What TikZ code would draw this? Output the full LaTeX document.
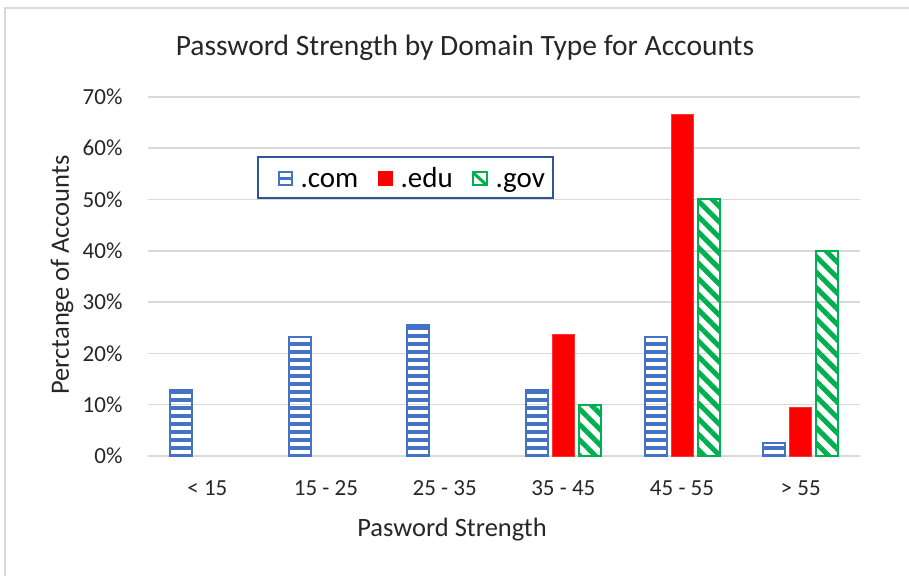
\documentclass[tikz,border=0pt]{standalone}
\usepackage{fontspec}
\setmainfont{Carlito}
\usetikzlibrary{patterns.meta}
\definecolor{comblue}{HTML}{4472C4}
\definecolor{govgreen}{HTML}{00B050}
\definecolor{gridgray}{HTML}{D9D9D9}
\definecolor{legendblue}{HTML}{2F5597}
\def\catw{118.67}
\def\barw{22}
\tikzset{
    gridline/.style = {draw=gridgray, line width=1.5pt},
    combar/.style = {draw=comblue, line width=2pt, pattern={Lines[angle=0, distance=8pt, line width=4.2pt]}, pattern color=comblue},
    edubar/.style = {draw=red!80, line width=1pt, fill=red},
    govbar/.style = {draw=govgreen, line width=2pt, pattern={Lines[angle=-45, distance=11pt, line width=5pt]}, pattern color=govgreen},
    ticklabel/.style = {font=\fontsize{23}{26}\selectfont, text=black!85},
    axistitle/.style = {font=\fontsize{26.5}{30}\selectfont, text=black!85}
}

\begin{document}
\begin{tikzpicture}[x=1pt, y=1pt]
        \useasboundingbox (0,0) rectangle (909,576);

        % outer chart border
        \draw[gridgray, line width=1.2pt] (5,0) -- (5,568) -- (909,568);

        % title
        \node[font=\fontsize{29.5}{33}\selectfont, text=black!85] (title) at (465,528) {Password Strength by Domain Type for Accounts};

        % plot area, y in percent
        \begin{scope}[shift={(148,120)}, y=5.13pt]
            % grid and tick labels
            \foreach \p in {0,10,...,70} {
                \draw[gridline] (0,\p) -- (712,\p);
                \node[ticklabel, anchor=east] (tick\p) at (-22,\p) {\p\%};
            }

            % category labels
            \foreach \lab [count=\i from 0] in {< 15, 15 - 25, 25 - 35, 35 - 45, 45 - 55, > 55}
                \node[ticklabel] (cat\i) at ({\catw/2+\i*\catw},-6.3) {\lab};

            % .com bars
            \foreach \val [count=\i from 0] in {12.8,23.1,25.6,12.8,23.1,2.6}
                \draw[combar] ({\catw/2+\i*\catw-26.5-\barw/2},0) rectangle ++(\barw,\val);

            % .edu bars
            \foreach \val [count=\i from 3] in {23.7,66.6,9.5}
                \draw[edubar] ({\catw/2+\i*\catw-\barw/2},0) rectangle ++(\barw,\val);

            % .gov bars
            \foreach \val [count=\i from 3] in {10,50,40}
                \draw[govbar] ({\catw/2+\i*\catw+26.5-\barw/2},0) rectangle ++(\barw,\val);
        \end{scope}

        % axis titles
        \node[axistitle] (xtitle) at (452,46) {Pasword Strength};
        \node[axistitle, rotate=90] (ytitle) at (62,301) {Perctange of Accounts};

        % legend
        \draw[legendblue, line width=1.5pt, fill=white] (258,378) rectangle (553,419);
        \draw[comblue, line width=2pt] (278.5,391) rectangle (291.5,404);
        \draw[comblue, line width=2.5pt] (278.5,397.5) -- (291.5,397.5);
        \fill[red] (378,390) rectangle (393,405);
        \draw[govgreen, line width=2pt] (472.5,391) rectangle (486.5,404);
        \draw[govgreen, line width=3pt] (473,403.5) -- (486,391.5);
        \node[anchor=base west, font=\fontsize{29}{32}\selectfont] (lcom) at (297,388) {.com};
        \node[anchor=base west, font=\fontsize{29}{32}\selectfont] (ledu) at (397,388) {.edu};
        \node[anchor=base west, font=\fontsize{29}{32}\selectfont] (lgov) at (492,388) {.gov};
    \end{tikzpicture}
\end{document}
